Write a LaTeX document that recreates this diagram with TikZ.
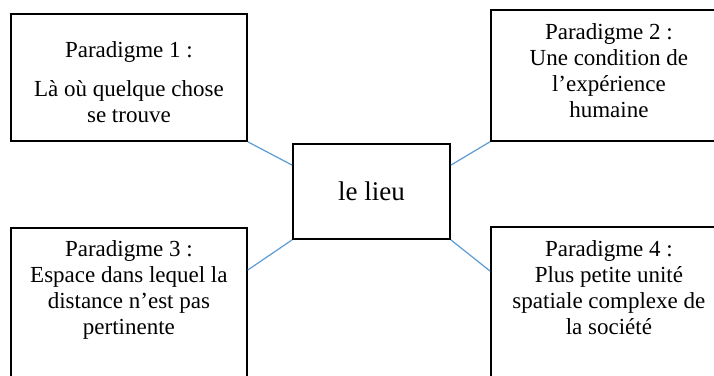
\documentclass[tikz,border=0pt]{standalone}
\usepackage{fontspec}
\setmainfont{Liberation Serif}
\usetikzlibrary{positioning}
\definecolor{lienbleu}{RGB}{91,155,213}
\begin{document}
\begin{tikzpicture}[x=1pt,y=1pt,
		cadre/.style={draw,line width=1.8pt,minimum width=236pt,inner sep=0pt},
		texte/.style={align=center,inner sep=0pt,font=\fontsize{23}{26}\selectfont},
		lien/.style={draw=lienbleu,line width=1.2pt}]
			\useasboundingbox (0,0) rectangle (714,-375);
			\clip (0,0) rectangle (714,-375);
			\node[cadre,minimum height=127pt,anchor=north west] (P1) at (10,-13) {};
			\node[cadre,minimum height=131pt,anchor=north west] (P2) at (490,-9) {};
			\node[cadre,minimum height=170pt,anchor=north west] (P3) at (10,-227) {};
			\node[cadre,minimum height=170pt,anchor=north west] (P4) at (490,-226) {};
			\node[cadre,minimum width=157pt,minimum height=95pt,font=\fontsize{27}{32}\selectfont] (L) at (371.5,-191.5) {le lieu};
			\node[texte,below=28pt of P1.north] (T1) {Paradigme 1 :\\[13pt]Là où quelque chose\\se trouve};
			\node[texte,below=14pt of P2.north] (T2) {Paradigme 2 :\\Une condition de\\l’expérience\\humaine};
			\node[texte,below=13pt of P3.north] (T3) {Paradigme 3 :\\Espace dans lequel la\\distance n’est pas\\pertinente};
			\node[texte,below=14pt of P4.north] (T4) {Paradigme 4 :\\Plus petite unité\\spatiale complexe de\\la société};
			\coordinate (A) at ([yshift=-22pt]L.north west);
			\coordinate (B) at ([yshift=-22pt]L.north east);
			\coordinate (C) at ([yshift=-43pt]P3.north east);
			\coordinate (D) at ([yshift=-45pt]P4.north west);
			\draw[lien] (P1.south east) -- (A);
			\draw[lien] (P2.south west) -- (B);
			\draw[lien] (L.south west) -- (C);
			\draw[lien] (L.south east) -- (D);
		\end{tikzpicture}
\end{document}
